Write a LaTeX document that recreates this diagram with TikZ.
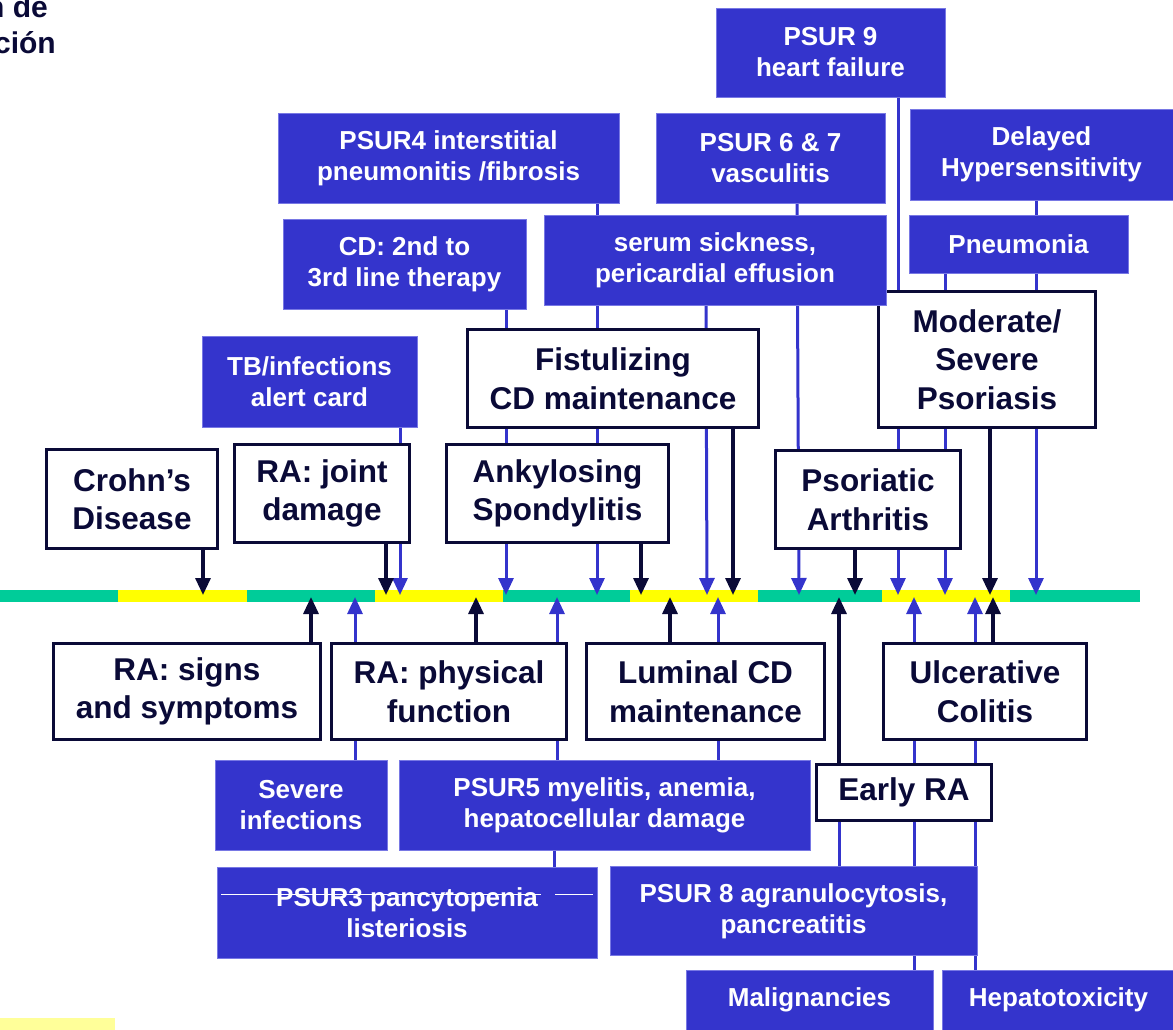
\documentclass[tikz,border=0pt]{standalone}
\usepackage{fontspec}
\setmainfont{Liberation Sans}
\usetikzlibrary{arrows.meta,backgrounds}
\definecolor{navy}{RGB}{10,10,55}
\definecolor{psurblue}{RGB}{52,52,204}
\definecolor{bluerim}{RGB}{120,120,228}
\definecolor{tlgreen}{RGB}{0,204,153}
\definecolor{tlyellow}{RGB}{255,255,0}
\definecolor{paleyellow}{RGB}{255,255,153}
\begin{document}
\begin{tikzpicture}[x=1pt,y=-1pt,
  blk/.style={draw=navy, line width=3.5pt, fill=white, text=navy, inner sep=0pt,
    align=center, font=\fontsize{31.5}{38.5}\selectfont\bfseries},
  blu/.style={draw=bluerim, line width=1pt, fill=psurblue, text=white, inner sep=0pt,
    align=center, font=\fontsize{26}{31}\selectfont\bfseries},
  nav/.style={draw=navy, line width=3.2pt},
  nava/.style={nav, -{Triangle[width=15pt,length=17pt]}},
  bl/.style={draw=psurblue, line width=3pt},
  bla/.style={bl, -{Triangle[width=15pt,length=17pt]}},
  ttl/.style={anchor=base east, inner sep=0pt, text=navy, font=\fontsize{30}{36}\selectfont\bfseries}
]
\useasboundingbox (0,0) rectangle (1173,1029);
\clip (0,0) rectangle (1173,1029);

% slide title remnant and corner mark
\node[ttl] (title1) at (48,17) {n de};
\node[ttl] (title2) at (56,53) {ción};
\fill[paleyellow] (0,1018) rectangle (115,1035);

% timeline
\node[inner sep=0pt, minimum width=1140pt, minimum height=12pt] (bar) at (570,596) {};
\coordinate (bt) at (0,595);
\coordinate (bb) at (0,597);

% indications (above the timeline)
\node[blk, minimum width=171pt, minimum height=99pt] (crohn) at (132,499) {Crohn’s\\Disease};
\node[blk, minimum width=175pt, minimum height=98pt] (rajoint) at (322,493.5) {RA: joint\\damage};
\node[blk, minimum width=222pt, minimum height=98pt] (ankyl) at (557.5,493.5) {Ankylosing\\Spondylitis};
\node[blk, minimum width=291pt, minimum height=98pt] (fistul) at (613,378.5) {Fistulizing\\CD maintenance};
\node[blk, minimum width=185pt, minimum height=98pt] (psa) at (868,499.5) {Psoriatic\\Arthritis};
\node[blk, minimum width=217pt, minimum height=136pt] (psor) at (987,359.5) {Moderate/\\Severe\\Psoriasis};

% indications (below the timeline)
\node[blk, minimum width=267pt, minimum height=96pt] (rasigns) at (187,691.5) {RA: signs\\and symptoms};
\node[blk, minimum width=235pt, minimum height=96pt] (raphys) at (449,691.5) {RA: physical\\function};
\node[blk, minimum width=238pt, minimum height=96pt] (luminal) at (705.5,691.5) {Luminal CD\\maintenance};
\node[blk, minimum width=203pt, minimum height=96pt] (uc) at (985,691.5) {Ulcerative\\Colitis};
\node[blk, minimum width=175pt, minimum height=56pt] (earlyra) at (904,792.5) {Early RA};

% safety updates (above)
\node[blu, minimum width=229pt, minimum height=89pt] (psur9) at (830.5,52.5) {PSUR 9\\heart failure};
\node[blu, minimum width=341pt, minimum height=90pt] (psur4) at (448.5,158) {PSUR4 interstitial\\pneumonitis /fibrosis};
\node[blu, minimum width=229pt, minimum height=90pt] (psur67) at (770.5,158) {PSUR 6 \& 7\\vasculitis};
\node[blu, minimum width=263pt, minimum height=91pt] (delayed) at (1041.5,154.5) {Delayed\\Hypersensitivity};
\node[blu, minimum width=243pt, minimum height=90pt] (cdline) at (404.5,264) {CD: 2nd to\\3rd line therapy};
\node[blu, minimum width=342pt, minimum height=90pt] (serum) at (715,260) {serum sickness,\\pericardial effusion};
\node[blu, minimum width=219pt, minimum height=58pt] (pneumonia) at (1018.5,244) {Pneumonia};
\node[blu, minimum width=215pt, minimum height=91pt] (tb) at (309.5,381.5) {TB/infections\\alert card};

% safety updates (below)
\node[blu, minimum width=172pt, minimum height=90pt] (severe) at (301,805) {Severe\\infections};
\node[blu, minimum width=411pt, minimum height=90pt] (psur5) at (604.5,805) {PSUR5 myelitis, anemia,\\hepatocellular damage};
\node[blu, minimum width=380pt, minimum height=91pt] (psur3) at (407,912.5) {PSUR3 pancytopenia\\listeriosis};
\node[blu, minimum width=367pt, minimum height=89pt] (psur8) at (793.5,911) {PSUR 8 agranulocytosis,\\pancreatitis};
\node[blu, minimum width=247pt, minimum height=60pt] (malig) at (809.5,1000) {Malignancies};
\node[blu, minimum width=233pt, minimum height=60pt] (hepato) at (1058.5,1000) {Hepatotoxicity};
\draw[white, line width=0.9pt] (221,894) -- (541,894) (555,894) -- (593,894);

\begin{pgfonlayer}{background}
  % timeline segments
  \fill[tlgreen]  (0,590)    rectangle (118,602);
  \fill[tlyellow] (118,590)  rectangle (247,602);
  \fill[tlgreen]  (247,590)  rectangle (375,602);
  \fill[tlyellow] (375,590)  rectangle (503,602);
  \fill[tlgreen]  (503,590)  rectangle (630,602);
  \fill[tlyellow] (630,590)  rectangle (758,602);
  \fill[tlgreen]  (758,590)  rectangle (882,602);
  \fill[tlyellow] (882,590)  rectangle (1010,602);
  \fill[tlgreen]  (1010,590) rectangle (1140,602);

  % safety updates pointing down
  \draw[bla] (psur9.south -| 898,0) -- (898,0 |- bt);
  \draw[bla] (psur4.south -| 597,0) -- (597,0 |- bt);
  \draw[bla] (psur67.south -| 797,0) -- (799,0 |- bt);
  \draw[bla] (serum.south -| 706,0) -- (707,0 |- bt);
  \draw[bla] (cdline.south -| 506,0) -- (506,0 |- bt);
  \draw[bla] (tb.south -| 400,0) -- (400,0 |- bt);
  \draw[bla] (delayed.south -| 1036,0) -- (1036,0 |- bt);
  \draw[bla] (pneumonia.south -| 945,0) -- (945,0 |- bt);

  % indications pointing down
  \draw[nava] (crohn.south -| 203,0) -- (203,0 |- bt);
  \draw[nava] (rajoint.south -| 386,0) -- (386,0 |- bt);
  \draw[nava] (ankyl.south -| 641,0) -- (641,0 |- bt);
  \draw[nava] (fistul.south -| 733,0) -- (733,0 |- bt);
  \draw[nava] (psa.south -| 855,0) -- (855,0 |- bt);
  \draw[nava] (psor.south -| 990,0) -- (990,0 |- bt);

  % indications pointing up
  \draw[nava] (rasigns.north -| 311,0) -- (311,0 |- bb);
  \draw[nava] (raphys.north -| 476,0) -- (476,0 |- bb);
  \draw[nava] (luminal.north -| 670,0) -- (670,0 |- bb);
  \draw[nava] (earlyra.north -| 839,0) -- (839,0 |- bb);
  \draw[nava] (uc.north -| 993,0) -- (993,0 |- bb);

  % safety updates pointing up
  \draw[bla] (severe.north -| 355,0) -- (355,0 |- bb);
  \draw[bla] (psur5.north -| 557,0) -- (557,0 |- bb);
  \draw[bl]  (psur3.north -| 554,0) -- (psur5.south -| 554,0);
  \draw[bla] (psur5.north -| 718,0) -- (718,0 |- bb);
  \draw[bl]  (psur8.north -| 839,0) -- (earlyra.south -| 839,0);
  \draw[bla] (malig.north -| 914,0) -- (914,0 |- bb);
  \draw[bla] (hepato.north -| 975,0) -- (975,0 |- bb);
\end{pgfonlayer}
\end{tikzpicture}
\end{document}
